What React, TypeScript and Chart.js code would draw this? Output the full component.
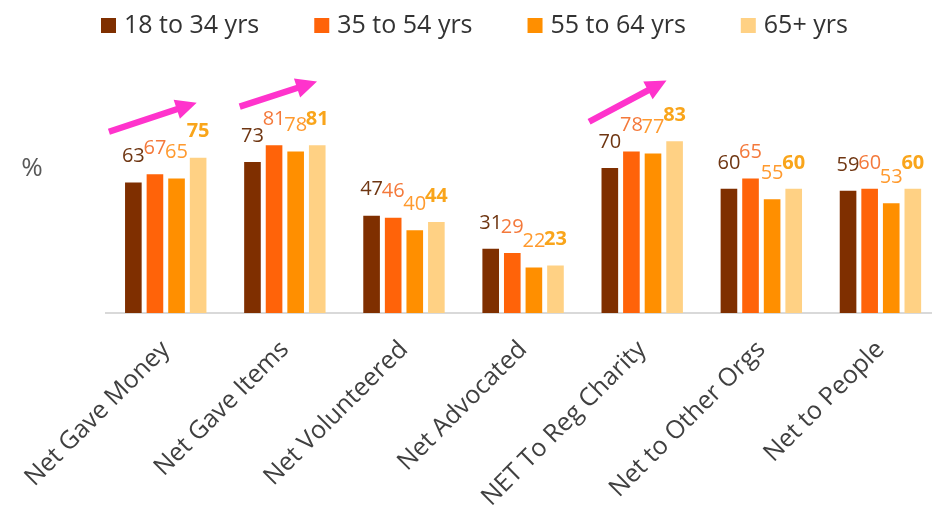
import { useEffect, useRef } from "react";
import { Chart, registerables } from "chart.js";

Chart.register(...registerables);

const categories = [
  "Net Gave Money",
  "Net Gave Items",
  "Net Volunteered",
  "Net Advocated",
  "NET To Reg Charity",
  "Net to Other Orgs",
  "Net to People",
];
const seriesNames = ["18 to 34 yrs", "35 to 54 yrs", "55 to 64 yrs", "65+ yrs"];
const age18to34 = [63, 73, 47, 31, 70, 60, 59];
const age35to54 = [67, 81, 46, 29, 78, 65, 60];
const age55to64 = [65, 78, 40, 22, 77, 55, 53];
const age65plus = [75, 81, 44, 23, 83, 60, 60];
const seriesValues = [age18to34, age35to54, age55to64, age65plus];

const barColors = ["#7F2F00", "#FF6309", "#FF8F00", "#FFD184"];
const labelColors = ["#6F3612", "#F4793B", "#FF9A2E", "#F9A51B"];

// trend arrows: category index and start/end value
const arrowCategories = [0, 1, 4];
const arrowFromValues = [87.6, 99.7, 92.4];
const arrowToValues = [101.6, 111.8, 112.3];

const FONT = "'Open Sans', 'Noto Sans', sans-serif";

export default function App() {
  const canvasRef = useRef<HTMLCanvasElement | null>(null);

  useEffect(() => {
    const canvas = canvasRef.current;
    if (!canvas) return;

    const arrowOffsets: [number, number][] = [
      [-0.477, 0.26],
      [-0.379, 0.27],
      [-0.446, 0.204],
    ];

    const overlay = {
      id: "overlay",
      afterDatasetsDraw(chart: any) {
        const ctx = chart.ctx as CanvasRenderingContext2D;
        ctx.save();
        // data labels
        chart.data.datasets.forEach((ds: any, di: number) => {
          const meta = chart.getDatasetMeta(di);
          ctx.font = `${di === 3 ? "bold " : ""}20px ${FONT}`;
          ctx.fillStyle = labelColors[di];
          ctx.textAlign = "center";
          ctx.textBaseline = "middle";
          meta.data.forEach((bar: any, i: number) => {
            ctx.fillText(String(ds.data[i]), bar.x, bar.y - 26);
          });
        });
        // arrows
        const xs = chart.scales.x;
        const ys = chart.scales.y;
        const catW = (chart.chartArea.right - chart.chartArea.left) / categories.length;
        ctx.fillStyle = "#FF33CC";
        arrowCategories.forEach((ci, k) => {
          const cx = xs.getPixelForValue(ci);
          const x1 = cx + arrowOffsets[k][0] * catW;
          const x2 = cx + arrowOffsets[k][1] * catW;
          const y1 = ys.getPixelForValue(arrowFromValues[k]);
          const y2 = ys.getPixelForValue(arrowToValues[k]);
          const dx = x2 - x1;
          const dy = y2 - y1;
          const len = Math.hypot(dx, dy);
          const ux = dx / len;
          const uy = dy / len;
          const nx = -uy;
          const ny = ux;
          const headLen = 21;
          const headHalf = 10;
          const shaftHalf = 3.2;
          const bx = x2 - ux * headLen;
          const by = y2 - uy * headLen;
          ctx.beginPath();
          ctx.moveTo(x1 + nx * shaftHalf, y1 + ny * shaftHalf);
          ctx.lineTo(bx + nx * shaftHalf, by + ny * shaftHalf);
          ctx.lineTo(bx + nx * headHalf, by + ny * headHalf);
          ctx.lineTo(x2, y2);
          ctx.lineTo(bx - nx * headHalf, by - ny * headHalf);
          ctx.lineTo(bx - nx * shaftHalf, by - ny * shaftHalf);
          ctx.lineTo(x1 - nx * shaftHalf, y1 - ny * shaftHalf);
          ctx.closePath();
          ctx.fill();
        });
        // legend
        ctx.font = `25px ${FONT}`;
        ctx.textAlign = "left";
        ctx.textBaseline = "middle";
        let lx = 101;
        seriesNames.forEach((name, i) => {
          ctx.fillStyle = barColors[i];
          ctx.fillRect(lx, 18, 15, 15);
          ctx.fillStyle = "#333333";
          ctx.fillText(name, lx + 23, 26);
          const w = ctx.measureText(name).width;
          lx = lx + 23 + w + 55;
        });
        // axis unit
        ctx.font = `26px ${FONT}`;
        ctx.fillStyle = "#595959";
        ctx.textAlign = "center";
        ctx.fillText("%", 32, 169);
        ctx.restore();
      },
    };

    const chart = new Chart(canvas, {
      type: "bar",
      data: {
        labels: categories,
        datasets: seriesNames.map((name, i) => ({
          label: name,
          data: seriesValues[i],
          backgroundColor: barColors[i],
          categoryPercentage: 0.725,
          barPercentage: 0.77,
        })),
      },
      options: {
        animation: false,
        responsive: false,
        layout: { padding: { left: 104, top: 106, right: 20, bottom: 0 } },
        plugins: {
          legend: { display: false },
          tooltip: { enabled: false },
          title: { display: false },
        },
        scales: {
          x: {
            grid: { display: false, drawTicks: false },
            border: { display: true, color: "#D9D9D9", width: 2 },
            ticks: {
              autoSkip: false,
              maxRotation: 45,
              minRotation: 45,
              padding: 22,
              color: "#404040",
              font: { family: FONT, size: 25 },
            },
            afterFit: (scale: any) => {
              scale.height = 194;
            },
          },
          y: {
            display: false,
            min: 0,
            max: 100,
          },
        },
      },
      plugins: [overlay],
    });

    return () => chart.destroy();
  }, []);

  return (
    <div
      style={{
        position: "fixed",
        left: 0,
        top: 0,
        width: 932,
        height: 507,
        overflow: "hidden",
        background: "#ffffff",
      }}
    >
      <canvas ref={canvasRef} width={960} height={507} style={{ width: 960, height: 507, display: "block" }} />
    </div>
  );
}
